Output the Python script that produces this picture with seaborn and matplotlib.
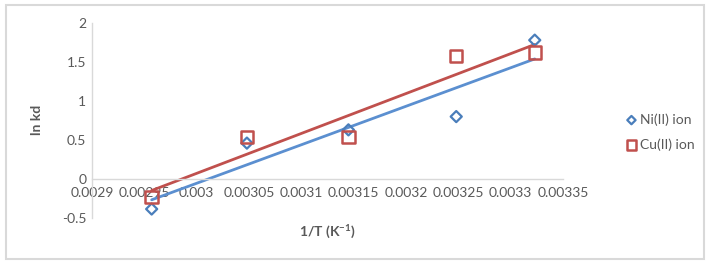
import matplotlib
matplotlib.use("Agg")
import matplotlib.pyplot as plt
import seaborn as sns
import pandas as pd
import numpy as np
from matplotlib.patches import Rectangle

inv_T = [0.002957, 0.003048, 0.003145, 0.003248, 0.003323]
ni_lnkd = [-0.385, 0.46, 0.63, 0.80, 1.78]
cu_lnkd = [-0.23, 0.54, 0.54, 1.58, 1.62]
series_names = ["Ni(II) ion", "Cu(II) ion"]
x_ticks = [0.0029, 0.00295, 0.003, 0.00305, 0.0031, 0.00315, 0.0032, 0.00325, 0.0033, 0.00335]
x_tick_labels = ["0.0029", "0.00295", "0.003", "0.00305", "0.0031", "0.00315", "0.0032", "0.00325", "0.0033", "0.00335"]
y_ticks = [-0.5, 0, 0.5, 1, 1.5, 2]
y_tick_labels = ["-0.5", "0", "0.5", "1", "1.5", "2"]

sns.set_theme(style="white")
plt.rcParams['font.family'] = ['Lato', 'DejaVu Sans']

W, H = 714, 266
fig = plt.figure(figsize=(W/100, H/100), dpi=100)
fig.patch.set_facecolor("white")
fig.patches.append(Rectangle((6/W, 1 - 259/H), (704-6)/W, (259-5)/H, transform=fig.transFigure,
                             fill=False, edgecolor="#D9D9D9", linewidth=1.5))

ax = fig.add_axes([92/W, 1 - 218/H, (563-92)/W, (218-23)/H])
ax.set_facecolor("none")

blue = "#4A7EBB"
red = "#C0504D"

df = pd.DataFrame({"x": inv_T, "ni": ni_lnkd, "cu": cu_lnkd})

sns.regplot(data=df, x="x", y="ni", ax=ax, ci=None, scatter=False,
            line_kws=dict(color="#5B8FD0", lw=2))
sns.regplot(data=df, x="x", y="cu", ax=ax, ci=None, scatter=False,
            line_kws=dict(color=red, lw=2))
sns.scatterplot(data=df, x="x", y="ni", ax=ax, marker="D", s=32,
                facecolor="none", edgecolor=blue, linewidth=1.6, label=series_names[0], zorder=5)
sns.scatterplot(data=df, x="x", y="cu", ax=ax, marker="s", s=80,
                facecolor="none", edgecolor=red, linewidth=1.8, label=series_names[1], zorder=5)

ax.set_xlim(0.0029, 0.00335)
ax.set_ylim(-0.5, 2)
ax.set_xticks(x_ticks)
ax.set_xticklabels(x_tick_labels)
ax.set_yticks(y_ticks)
ax.set_yticklabels(y_tick_labels)
ax.tick_params(length=0, labelsize=10, colors="#595959", pad=4)
ax.tick_params(axis="x", pad=6)

for s in ["top", "right"]:
    ax.spines[s].set_visible(False)
ax.spines["bottom"].set_position(("data", 0))
ax.spines["bottom"].set_color("#D9D9D9")
ax.spines["left"].set_color("#D9D9D9")
ax.spines["bottom"].set_linewidth(1)
ax.spines["left"].set_linewidth(1)

ax.set_xlabel("")
ax.set_ylabel("")
fig.text((92+563)/2/W, 1 - 231/H, "1/T (K$^{\\mathregular{-1}}$)", ha="center", va="center",
         fontsize=10, fontweight="bold", color="#595959")
fig.text(37/W, 1 - 120/H, "ln kd", ha="center", va="center", rotation=90,
         fontsize=10, fontweight="bold", color="#595959")

leg = ax.legend(loc="center left", bbox_to_anchor=(612/W, 1 - 132/H), bbox_transform=fig.transFigure,
                frameon=False, fontsize=10, handletextpad=0.1, labelspacing=0.9, handlelength=1.0,
                markerscale=0.75)
for t in leg.get_texts():
    t.set_color("#595959")

fig.savefig("out.png", dpi=100)
